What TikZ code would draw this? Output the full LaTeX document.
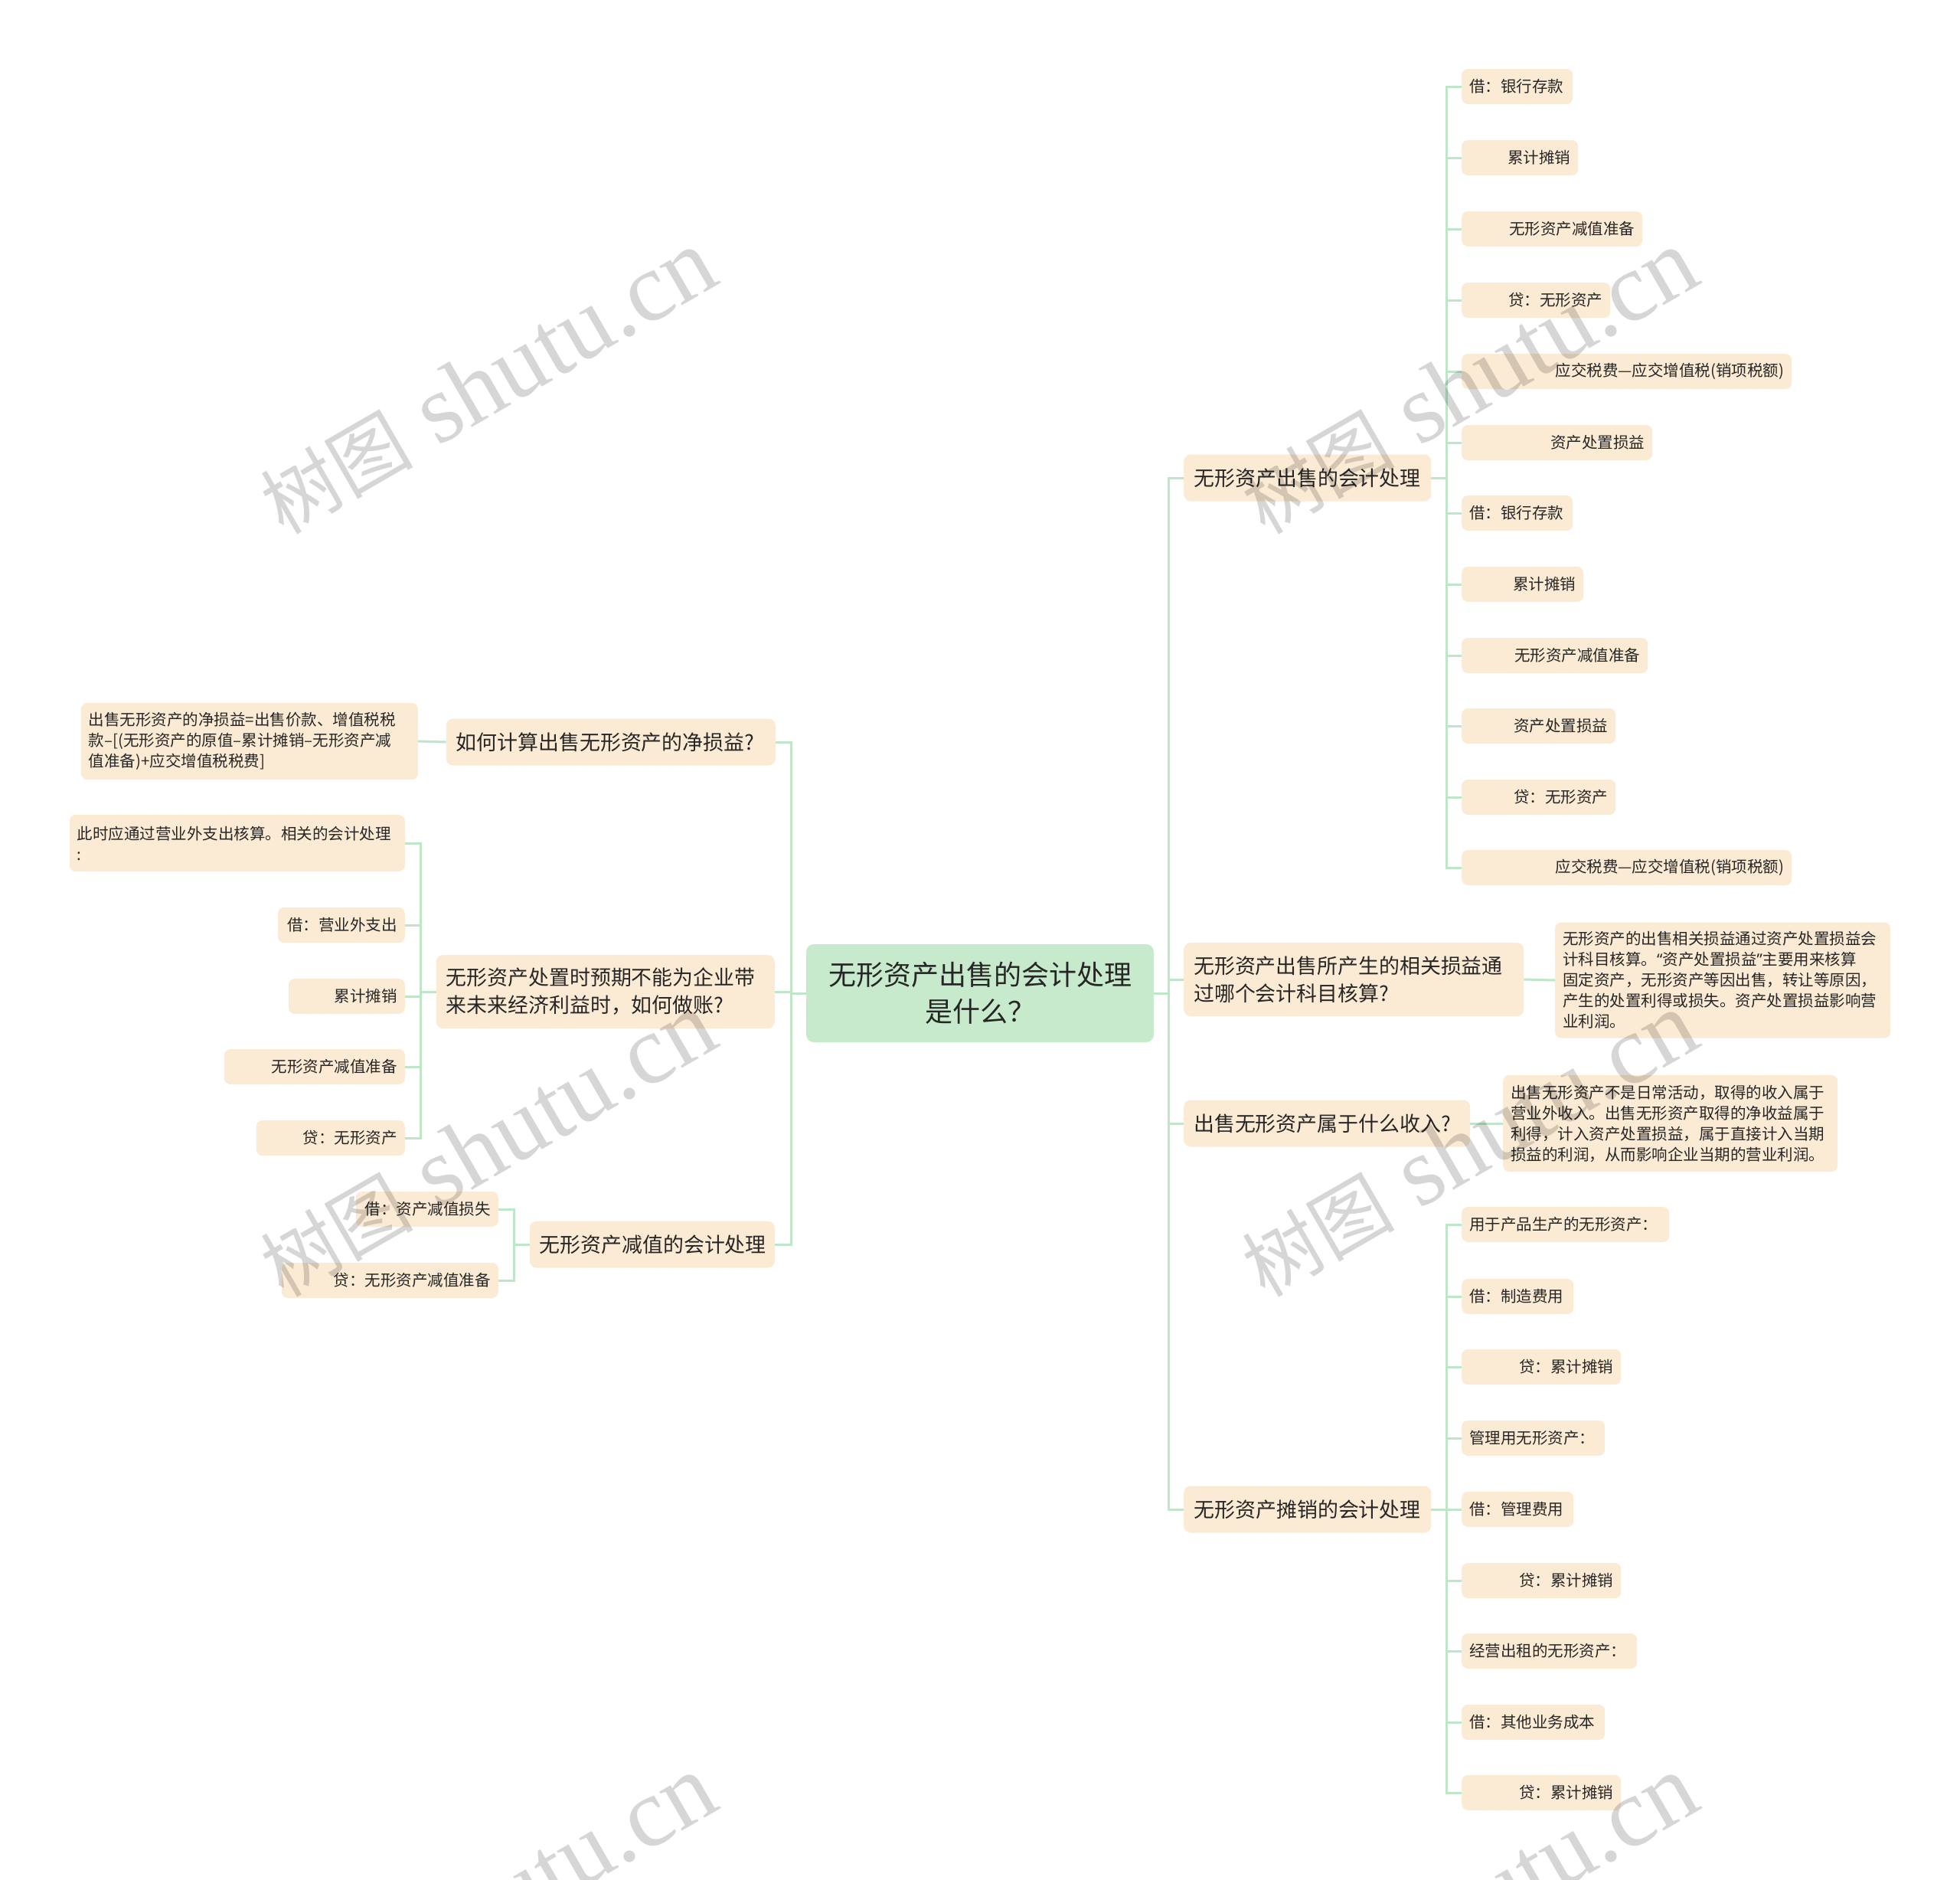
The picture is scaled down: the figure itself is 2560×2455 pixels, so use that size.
\documentclass[tikz,border=0pt]{standalone}
\usepackage{fontspec}
\setmainfont{Noto Sans CJK SC}
\newfontfamily\cjk{Noto Sans CJK SC}
\newfontfamily\wmlatin{Liberation Serif}
\newfontfamily\qf{Noto Sans}
\definecolor{peach}{HTML}{FCEBD4}
\definecolor{mint}{HTML}{C6EACB}
\definecolor{linec}{HTML}{BFE6C9}
\definecolor{ink}{HTML}{262626}
\newcommand\myroot{\fontsize{36pt}{48pt}\selectfont}
\newcommand\mylvl{\fontsize{26.9pt}{36pt}\selectfont}
\newcommand\myleaf{\fontsize{20.5pt}{27pt}\selectfont}
\newcommand\wmtext{{\cjk\fontsize{100pt}{100pt}\selectfont 树图}{\wmlatin\fontsize{128pt}{128pt}\selectfont\ shutu.cn}}
% connector: parent -> trunk -> child
\newcommand\cR[4]{\draw[conn] (#1.east) -- (#1.east -| #2) -- (#2 |- #3.west) [#4] -- (#3.west);}
\newcommand\cL[4]{\draw[conn] (#1.west) -- (#1.west -| #2) -- (#2 |- #3.east) [#4] -- (#3.east);}
\tikzset{
  rootbox/.style={rectangle, rounded corners=10pt, fill=mint, text=ink, font=\myroot,
    inner xsep=20pt, inner ysep=0pt, align=center},
  lvl/.style={rectangle, rounded corners=9pt, fill=peach, text=ink, font=\mylvl,
    inner xsep=13pt, inner ysep=0pt, minimum height=61pt},
  leaf/.style={rectangle, rounded corners=8pt, fill=peach, text=ink, font=\myleaf,
    inner xsep=10pt, inner ysep=0pt, minimum height=46pt},
  conn/.style={draw=linec, line width=3pt, sharp corners},
  rc/.style={rounded corners=16pt},
  sc/.style={sharp corners},
  wm/.style={text=black, text opacity=0.16, inner sep=0pt, rotate=30, anchor=base west}
}
\begin{document}
\begin{tikzpicture}[x=1pt,y=-1pt]
\useasboundingbox (0,0) rectangle (2560,2455);
\fill[white] (0,0) rectangle (2560,2455);

% trunk coordinates
\coordinate (tR) at (1526,0);
\coordinate (tL) at (1033,0);
\coordinate (tA) at (1889,0);
\coordinate (tD) at (1889,0);
\coordinate (tF) at (549,0);
\coordinate (tG) at (671,0);

% root
\node[rootbox, text width=414pt, minimum height=128pt] (root) at (1280,1297)
  {无形资产出售的会计处理\\是什么？};

% level 1, right
\node[lvl, anchor=west, text width=297pt, align=center] (A) at (1546,624) {无形资产出售的会计处理};
\node[lvl, anchor=west, text width=418pt, align=left, minimum height=96pt] (B) at (1546,1279)
  {无形资产出售所产生的相关损益通\\过哪个会计科目核算?};
\node[lvl, anchor=west, text width=348pt, align=left] (C) at (1546,1467) {出售无形资产属于什么收入?};
\node[lvl, anchor=west, text width=297pt, align=center] (D) at (1546,1971) {无形资产摊销的会计处理};

% level 1, left
\node[lvl, anchor=east, text width=404pt, align=left] (E) at (1013,969) {如何计算出售无形资产的净损益?};
\node[lvl, anchor=east, text width=416pt, align=left, minimum height=96pt] (F) at (1012,1295)
  {无形资产处置时预期不能为企业带\\来未来经济利益时，如何做账?};
\node[lvl, anchor=east, text width=294pt, align=center] (G) at (1012,1625) {无形资产减值的会计处理};

% A children
\node[leaf, anchor=west, text width=125pt, align=left]  (a1)  at (1909,113)  {借：银行存款};
\node[leaf, anchor=west, text width=132pt, align=right] (a2)  at (1909,206)  {累计摊销};
\node[leaf, anchor=west, text width=216pt, align=right] (a3)  at (1909,299)  {无形资产减值准备};
\node[leaf, anchor=west, text width=174pt, align=right] (a4)  at (1909,392)  {贷：无形资产};
\node[leaf, anchor=west, text width=411pt, align=right] (a5)  at (1909,485)  {应交税费—应交增值税(销项税额)};
\node[leaf, anchor=west, text width=229pt, align=right] (a6)  at (1909,578)  {资产处置损益};
\node[leaf, anchor=west, text width=125pt, align=left]  (a7)  at (1909,670)  {借：银行存款};
\node[leaf, anchor=west, text width=139pt, align=right] (a8)  at (1909,763)  {累计摊销};
\node[leaf, anchor=west, text width=223pt, align=right] (a9)  at (1909,856)  {无形资产减值准备};
\node[leaf, anchor=west, text width=181pt, align=right] (a10) at (1909,948)  {资产处置损益};
\node[leaf, anchor=west, text width=181pt, align=right] (a11) at (1909,1041) {贷：无形资产};
\node[leaf, anchor=west, text width=411pt, align=right] (a12) at (1909,1133) {应交税费—应交增值税(销项税额)};

% B, C detail
\node[leaf, anchor=west, text width=418pt, align=left, minimum height=151pt] (b1) at (2031,1280)
  {无形资产的出售相关损益通过资产处置损益会\\计科目核算。{\qf “}资产处置损益{\qf ”}主要用来核算\\固定资产，无形资产等因出售，转让等原因，\\产生的处置利得或损失。资产处置损益影响营\\业利润。};
\node[leaf, anchor=west, text width=417pt, align=left, minimum height=126pt] (c1) at (1963,1467)
  {出售无形资产不是日常活动，取得的收入属于\\营业外收入。出售无形资产取得的净收益属于\\利得，计入资产处置损益，属于直接计入当期\\损益的利润，从而影响企业当期的营业利润。};

% D children
\node[leaf, anchor=west, text width=251pt, align=left]  (d1) at (1909,1599) {用于产品生产的无形资产：};
\node[leaf, anchor=west, text width=126pt, align=left]  (d2) at (1909,1693) {借：制造费用};
\node[leaf, anchor=west, text width=188pt, align=right] (d3) at (1909,1785) {贷：累计摊销};
\node[leaf, anchor=west, text width=167pt, align=left]  (d4) at (1909,1878) {管理用无形资产：};
\node[leaf, anchor=west, text width=126pt, align=left]  (d5) at (1909,1971) {借：管理费用};
\node[leaf, anchor=west, text width=188pt, align=right] (d6) at (1909,2064) {贷：累计摊销};
\node[leaf, anchor=west, text width=209pt, align=left]  (d7) at (1909,2156) {经营出租的无形资产：};
\node[leaf, anchor=west, text width=167pt, align=left]  (d8) at (1909,2249) {借：其他业务成本};
\node[leaf, anchor=west, text width=188pt, align=right] (d9) at (1909,2341) {贷：累计摊销};

% E child
\node[leaf, anchor=east, text width=420pt, align=left, minimum height=100pt] (e1) at (546,968)
  {出售无形资产的净损益=出售价款、增值税税\\款–[(无形资产的原值–累计摊销–无形资产减\\值准备)+应交增值税税费]};

% F children
\node[leaf, anchor=east, text width=418pt, align=left, minimum height=74pt] (f1) at (529,1101)
  {此时应通过营业外支出核算。相关的会计处理\\:};
\node[leaf, anchor=east, text width=146pt, align=right] (f2) at (529,1208) {借：营业外支出};
\node[leaf, anchor=east, text width=132pt, align=right] (f3) at (529,1301) {累计摊销};
\node[leaf, anchor=east, text width=216pt, align=right] (f4) at (529,1393) {无形资产减值准备};
\node[leaf, anchor=east, text width=174pt, align=right] (f5) at (529,1486) {贷：无形资产};

% G children
\node[leaf, anchor=east, text width=166pt, align=right] (g1) at (651,1579) {借：资产减值损失};
\node[leaf, anchor=east, text width=263pt, align=right] (g2) at (651,1672) {贷：无形资产减值准备};

% connectors
\cR{root}{tR}{A}{rc}
\cR{root}{tR}{B}{rc}
\cR{root}{tR}{C}{rc}
\cR{root}{tR}{D}{rc}
\cL{root}{tL}{E}{rc}
\cL{root}{tL}{F}{sc}
\cL{root}{tL}{G}{rc}
\cR{A}{tA}{a1}{rc}
\cR{A}{tA}{a2}{rc}
\cR{A}{tA}{a3}{rc}
\cR{A}{tA}{a4}{rc}
\cR{A}{tA}{a5}{rc}
\cR{A}{tA}{a6}{rc}
\cR{A}{tA}{a7}{rc}
\cR{A}{tA}{a8}{rc}
\cR{A}{tA}{a9}{rc}
\cR{A}{tA}{a10}{rc}
\cR{A}{tA}{a11}{rc}
\cR{A}{tA}{a12}{rc}
\draw[conn] (B.east) -- (b1.west);
\draw[conn] (C.east) -- (c1.west);
\cR{D}{tD}{d1}{rc}
\cR{D}{tD}{d2}{rc}
\cR{D}{tD}{d3}{rc}
\cR{D}{tD}{d4}{rc}
\draw[conn] (D.east) -- (d5.west);
\cR{D}{tD}{d6}{rc}
\cR{D}{tD}{d7}{rc}
\cR{D}{tD}{d8}{rc}
\cR{D}{tD}{d9}{rc}
\draw[conn] (E.west) -- (e1.east);
\cL{F}{tF}{f1}{rc}
\cL{F}{tF}{f2}{rc}
\cL{F}{tF}{f3}{sc}
\cL{F}{tF}{f4}{rc}
\cL{F}{tF}{f5}{rc}
\cL{G}{tG}{g1}{rc}
\cL{G}{tG}{g2}{rc}

% watermark
\node[wm] (w1) at (370,700)  {\wmtext};
\node[wm] (w2) at (1652,700) {\wmtext};
\node[wm] (w3) at (370,1696) {\wmtext};
\node[wm] (w4) at (1652,1696){\wmtext};
\node[wm] (w5) at (370,2692) {\wmtext};
\node[wm] (w6) at (1652,2692){\wmtext};
\end{tikzpicture}
\end{document}
